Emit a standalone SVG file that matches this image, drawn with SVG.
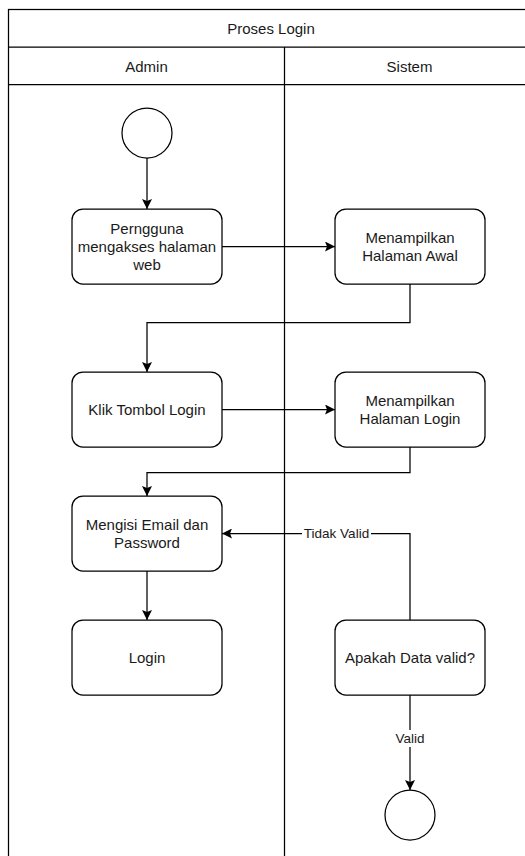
<svg xmlns="http://www.w3.org/2000/svg" width="525" height="856" viewBox="0 0 525 856">
  <style>
    .frame { fill: #ffffff; stroke: #000000; stroke-width: 1.25; }
    .node { fill: #ffffff; stroke: #000000; stroke-width: 1.25; }
    .edge { fill: none; stroke: #000000; stroke-width: 1.25; }
    .t { font-family: "Liberation Sans", Arial, Helvetica, sans-serif; font-size: 15px; fill: #1a1a1a; text-anchor: middle; dominant-baseline: central; }
    .lbl { font-family: "Liberation Sans", Arial, Helvetica, sans-serif; font-size: 13.5px; fill: #1a1a1a; text-anchor: middle; dominant-baseline: central; }
    .lblbg { fill: #ffffff; stroke: none; }
  </style>
  <defs>
    <marker id="arrow" viewBox="0 0 10 10" refX="10" refY="5" markerWidth="10" markerHeight="10" markerUnits="userSpaceOnUse" orient="auto">
      <path d="M0,0 L10,5 L0,10 L2,5 Z" fill="#000000"/>
    </marker>
  </defs>
  <rect width="525" height="856" fill="#ffffff"/>

  <!-- swimlane pool -->
  <g id="pool">
    <rect class="frame" x="8.5" y="9.5" width="526" height="860"/>
    <line class="edge" x1="8.5" y1="47" x2="534.5" y2="47"/>
    <line class="edge" x1="8.5" y1="84.5" x2="534.5" y2="84.5"/>
    <line class="edge" x1="284.5" y1="47" x2="284.5" y2="870"/>
    <text class="t" x="271" y="28">Proses Login</text>
    <text class="t" x="146.5" y="66">Admin</text>
    <text class="t" x="409.5" y="66">Sistem</text>
  </g>

  <!-- connectors -->
  <g id="connectors">
    <path class="edge" d="M147,158 L147,209" marker-end="url(#arrow)"/>
    <path class="edge" d="M222,246.5 L335,246.5" marker-end="url(#arrow)"/>
    <path class="edge" d="M410,284 L410,322.5 L147,322.5 L147,372" marker-end="url(#arrow)"/>
    <path class="edge" d="M222,409.5 L335,409.5" marker-end="url(#arrow)"/>
    <path class="edge" d="M410,447 L410,472.5 L147,472.5 L147,496" marker-end="url(#arrow)"/>
    <path class="edge" d="M147,571 L147,620" marker-end="url(#arrow)"/>
    <path class="edge" d="M410,620 L410,533.5 L222,533.5" marker-end="url(#arrow)"/>
    <path class="edge" d="M410,695 L410,790" marker-end="url(#arrow)"/>
    <rect class="lblbg" x="302" y="525" width="69" height="17"/>
    <text class="lbl" x="336.5" y="533.5">Tidak Valid</text>
    <rect class="lblbg" x="394" y="730" width="32" height="17"/>
    <text class="lbl" x="410" y="738.5">Valid</text>
  </g>

  <!-- nodes -->
  <g id="start">
    <circle class="node" cx="147" cy="133" r="25"/>
  </g>
  <g id="akses">
    <rect class="node" x="72" y="209" width="150" height="75" rx="11"/>
    <text class="t" x="147" y="228.5">Perngguna</text>
    <text class="t" x="147" y="246.5">mengakses halaman</text>
    <text class="t" x="147" y="264.5">web</text>
  </g>
  <g id="halaman-awal">
    <rect class="node" x="335" y="209" width="150" height="75" rx="11"/>
    <text class="t" x="410" y="237.5">Menampilkan</text>
    <text class="t" x="410" y="255.5">Halaman Awal</text>
  </g>
  <g id="klik-login">
    <rect class="node" x="72" y="372" width="150" height="75" rx="11"/>
    <text class="t" x="147" y="409.5">Klik Tombol Login</text>
  </g>
  <g id="halaman-login">
    <rect class="node" x="335" y="372" width="150" height="75" rx="11"/>
    <text class="t" x="410" y="400.5">Menampilkan</text>
    <text class="t" x="410" y="418.5">Halaman Login</text>
  </g>
  <g id="isi-data">
    <rect class="node" x="72" y="496" width="150" height="75" rx="11"/>
    <text class="t" x="147" y="524.5">Mengisi Email dan</text>
    <text class="t" x="147" y="542.5">Password</text>
  </g>
  <g id="login">
    <rect class="node" x="72" y="620" width="150" height="75" rx="11"/>
    <text class="t" x="147" y="657.5">Login</text>
  </g>
  <g id="validasi">
    <rect class="node" x="335" y="620" width="150" height="75" rx="11"/>
    <text class="t" x="410" y="657.5">Apakah Data valid?</text>
  </g>
  <g id="end">
    <circle class="node" cx="410" cy="815" r="25"/>
  </g>
</svg>
